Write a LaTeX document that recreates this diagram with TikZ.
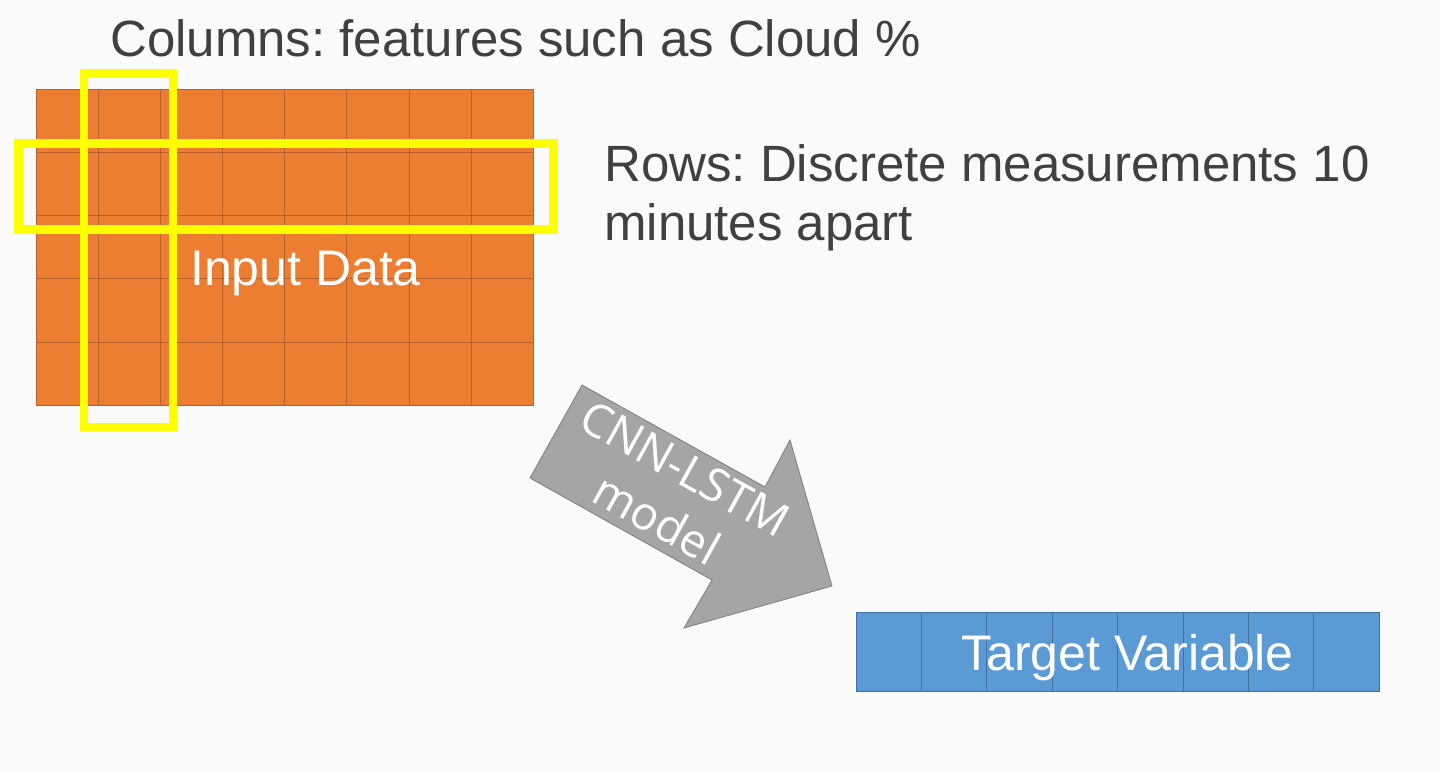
\documentclass[tikz,border=0pt]{standalone}
\usepackage{fontspec}
\setmainfont{Liberation Sans}
\newfontfamily\modelfont{Open Sans}
\usepackage{xcolor}
\usepackage{tikz}
\frenchspacing

\definecolor{bgcol}{RGB}{250,250,250}
\definecolor{datafill}{RGB}{237,125,49}
\definecolor{dataline}{RGB}{184,97,42}
\definecolor{targetfill}{RGB}{91,155,213}
\definecolor{targetline}{RGB}{65,113,156}
\definecolor{arrowfill}{RGB}{165,165,165}
\definecolor{arrowline}{RGB}{127,127,127}
\definecolor{notecol}{RGB}{64,64,64}
\definecolor{hilite}{RGB}{255,255,0}

\begin{document}
\begin{tikzpicture}[x=1pt,y=1pt]
\tikzstyle{every node}+=[inner sep=0pt]
\tikzstyle{sidetext}=[notecol, anchor=base west, align=left, font=\fontsize{51}{58.5}\selectfont]
\tikzstyle{celltext}=[white, anchor=base, font=\fontsize{50}{58}\selectfont]
\useasboundingbox (0,0) rectangle (1440,-771);
\fill [bgcol] (0,0) rectangle (1440,-771);
% input data grid
\draw [dataline, fill=datafill, line width=0.8] (36.3,-89.3) rectangle (533,-405);
\draw [dataline, line width=0.8] (98.4,-89.3) -- (98.4,-405);
\draw [dataline, line width=0.8] (160.5,-89.3) -- (160.5,-405);
\draw [dataline, line width=0.8] (222.6,-89.3) -- (222.6,-405);
\draw [dataline, line width=0.8] (284.7,-89.3) -- (284.7,-405);
\draw [dataline, line width=0.8] (346.8,-89.3) -- (346.8,-405);
\draw [dataline, line width=0.8] (408.9,-89.3) -- (408.9,-405);
\draw [dataline, line width=0.8] (471,-89.3) -- (471,-405);
\draw [dataline, line width=0.8] (36.3,-152.4) -- (533,-152.4);
\draw [dataline, line width=0.8] (36.3,-215.6) -- (533,-215.6);
\draw [dataline, line width=0.8] (36.3,-278.7) -- (533,-278.7);
\draw [dataline, line width=0.8] (36.3,-341.9) -- (533,-341.9);
\node (input) [celltext] at (305.5,-285) {Input Data};
% highlighted column and row
\draw [hilite, line width=8.6] (84,-73.5) rectangle (173,-427);
\draw [hilite, line width=8.6] (18.7,-143.3) rectangle (553.3,-229.5);
\node (columns) [sidetext] at (110,-56.7) {Columns: features such as Cloud \%};
\node (rows) [sidetext] at (604,-240.2) {Rows: Discrete measurements 10\\minutes apart};
% model arrow
\draw [arrowline, fill=arrowfill, line width=0.8] (582,-385) -- (765,-487) -- (790,-440) -- (832,-586) -- (684,-628) -- (712,-580) -- (530,-478) -- cycle;
\node (model) [white, rotate=-29, align=center, font=\modelfont\fontsize{46}{58}\selectfont] at (671,-494) {CNN-LSTM\\model};
% target variable bar
\draw [targetline, fill=targetfill, line width=0.8] (856,-612.7) rectangle (1379,-691.7);
\draw [targetline, line width=0.8] (921.4,-612.7) -- (921.4,-691.7);
\draw [targetline, line width=0.8] (986.8,-612.7) -- (986.8,-691.7);
\draw [targetline, line width=0.8] (1052.1,-612.7) -- (1052.1,-691.7);
\draw [targetline, line width=0.8] (1117.5,-612.7) -- (1117.5,-691.7);
\draw [targetline, line width=0.8] (1182.9,-612.7) -- (1182.9,-691.7);
\draw [targetline, line width=0.8] (1248.2,-612.7) -- (1248.2,-691.7);
\draw [targetline, line width=0.8] (1313.6,-612.7) -- (1313.6,-691.7);
\node (target) [celltext] at (1127.5,-670.7) {Target Variable};
\end{tikzpicture}
\end{document}
